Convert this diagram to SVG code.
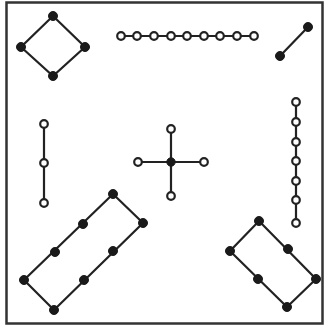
<svg xmlns="http://www.w3.org/2000/svg" width="328" height="329" viewBox="0 0 328 329">
<style>
.edge{stroke:#222;stroke-width:2.2;fill:none;stroke-linecap:round}
.f{fill:#1a1a1a;stroke:#1a1a1a;stroke-width:1}
.o{fill:#fff;stroke:#222;stroke-width:2.2}
</style>
<rect x="0" y="0" width="328" height="329" fill="#fff"/>
<rect id="frame" x="6.5" y="2.5" width="316" height="321" fill="none" stroke="#333" stroke-width="2.5"/>
<g id="connectors" class="edge">
<polygon points="53,16 85,47 53,76 21,47"/>
<line x1="121" y1="36" x2="254" y2="36"/>
<line x1="308" y1="27" x2="280" y2="56"/>
<line x1="44" y1="124" x2="44" y2="203"/>
<line x1="138" y1="162" x2="204" y2="162"/>
<line x1="171" y1="129" x2="171" y2="196"/>
<line x1="296" y1="102" x2="296" y2="223"/>
<polygon points="113,194 143,223 54,310 24,280"/>
<polygon points="259,221 316,279 287,307 230,251"/>
</g>
<g id="diamond">
<circle class="f" cx="53" cy="16" r="4.5"/>
<circle class="f" cx="85" cy="47" r="4.5"/>
<circle class="f" cx="53" cy="76" r="4.5"/>
<circle class="f" cx="21" cy="47" r="4.5"/>
</g>
<g id="h-chain">
<circle class="o" cx="121" cy="36" r="3.8"/>
<circle class="o" cx="137" cy="36" r="3.8"/>
<circle class="o" cx="154" cy="36" r="3.8"/>
<circle class="o" cx="171" cy="36" r="3.8"/>
<circle class="o" cx="187" cy="36" r="3.8"/>
<circle class="o" cx="204" cy="36" r="3.8"/>
<circle class="o" cx="220" cy="36" r="3.8"/>
<circle class="o" cx="237" cy="36" r="3.8"/>
<circle class="o" cx="254" cy="36" r="3.8"/>
</g>
<g id="pair">
<circle class="f" cx="308" cy="27" r="4.5"/>
<circle class="f" cx="280" cy="56" r="4.5"/>
</g>
<g id="v-chain-left">
<circle class="o" cx="44" cy="124" r="3.8"/>
<circle class="o" cx="44" cy="163" r="3.8"/>
<circle class="o" cx="44" cy="203" r="3.8"/>
</g>
<g id="cross">
<circle class="o" cx="171" cy="129" r="3.8"/>
<circle class="o" cx="138" cy="162" r="3.8"/>
<circle class="o" cx="204" cy="162" r="3.8"/>
<circle class="o" cx="171" cy="196" r="3.8"/>
<circle class="f" cx="171" cy="162" r="4.2"/>
</g>
<g id="v-chain-right">
<circle class="o" cx="296" cy="102" r="3.8"/>
<circle class="o" cx="296" cy="122" r="3.8"/>
<circle class="o" cx="296" cy="142" r="3.8"/>
<circle class="o" cx="296" cy="161" r="3.8"/>
<circle class="o" cx="296" cy="181" r="3.8"/>
<circle class="o" cx="296" cy="200" r="3.8"/>
<circle class="o" cx="296" cy="223" r="3.8"/>
</g>
<g id="rect-left">
<circle class="f" cx="113" cy="194" r="4.5"/>
<circle class="f" cx="143" cy="223" r="4.5"/>
<circle class="f" cx="54" cy="310" r="4.5"/>
<circle class="f" cx="24" cy="280" r="4.5"/>
<circle class="f" cx="83" cy="224" r="4.5"/>
<circle class="f" cx="55" cy="252" r="4.5"/>
<circle class="f" cx="113" cy="251" r="4.5"/>
<circle class="f" cx="84" cy="280" r="4.5"/>
</g>
<g id="rect-right">
<circle class="f" cx="259" cy="221" r="4.5"/>
<circle class="f" cx="316" cy="279" r="4.5"/>
<circle class="f" cx="287" cy="307" r="4.5"/>
<circle class="f" cx="230" cy="251" r="4.5"/>
<circle class="f" cx="288" cy="249" r="4.5"/>
<circle class="f" cx="258" cy="279" r="4.5"/>
</g>
</svg>
